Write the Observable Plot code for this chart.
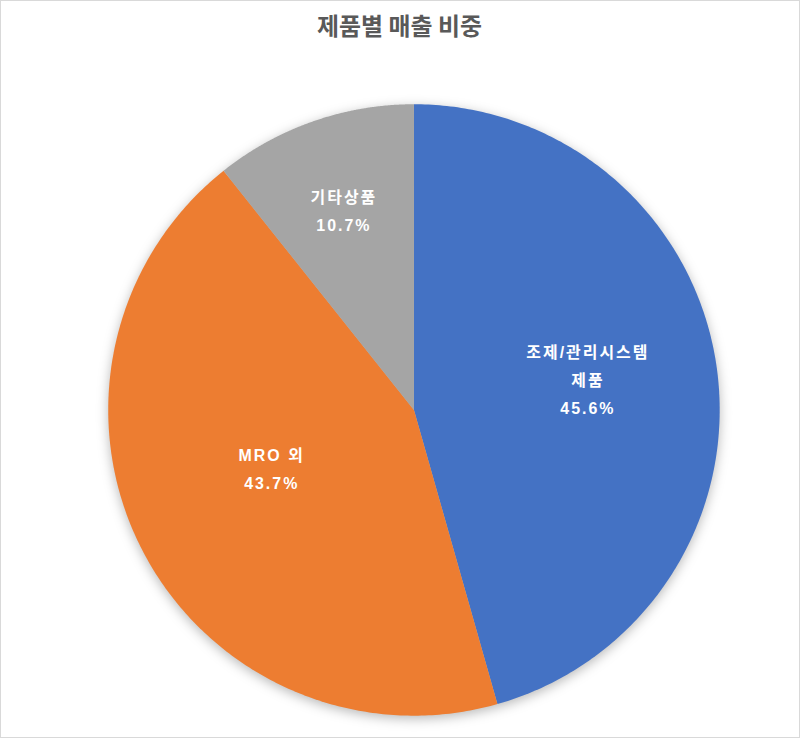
<!DOCTYPE html>
<html><head><meta charset="utf-8">
<script src="https://cdn.jsdelivr.net/npm/d3@7"></script>
<script src="https://cdn.jsdelivr.net/npm/@observablehq/plot@0.6"></script>
<style>
html,body{margin:0;padding:0;background:#fff;}
#wrap{position:relative;width:800px;height:738px;box-sizing:border-box;border:1px solid #d9d9d9;overflow:hidden;}
#wrap svg{position:absolute;left:-1px;top:-1px;}
svg g[aria-label="line"]{filter:drop-shadow(0px 3px 6px rgba(0,0,0,0.28));}
svg g.slice-labels text{letter-spacing:2px;}
</style></head>
<body><div id="wrap"></div>
<script>
const title = "제품별 매출 비중";
const categories = ["조제/관리시스템\n제품", "MRO 외", "기타상품"];
const shares = [45.6, 43.7, 10.7];
const colors = ["#4472C4", "#ED7D31", "#A5A5A5"];
// label placement: fraction of radius, and angular shift (degrees) from the slice bisector
const labelRadius = [0.579, 0.50, 0.698];
const labelShift = [-2.8, 5.7, 0.1];

const pie = d3.pie().sort(null).value(d => d)(shares);
const poly = [];
const labels = [];
pie.forEach((p, i) => {
  poly.push({k: i, x: 0, y: 0});
  const n = 240;
  for (let j = 0; j <= n; j++) {
    const a = p.startAngle + (p.endAngle - p.startAngle) * j / n;
    poly.push({k: i, x: Math.sin(a), y: Math.cos(a)});
  }
  poly.push({k: i, x: 0, y: 0});
  const m = (p.startAngle + p.endAngle) / 2 + labelShift[i] * Math.PI / 180;
  labels.push({k: i, x: labelRadius[i] * Math.sin(m), y: labelRadius[i] * Math.cos(m),
    text: categories[i] + "\n" + shares[i].toFixed(1) + "%"});
});

const chart = Plot.plot({
  width: 800, height: 738,
  margin: 0,
  x: {domain: [-1, 1], range: [108, 721], axis: null},
  y: {domain: [-1, 1], range: [717, 104], axis: null},
  style: {fontFamily: "'Noto Sans CJK KR', 'Noto Sans', sans-serif", background: "transparent"},
  marks: [
    Plot.line(poly, {x: "x", y: "y", z: "k", fill: d => colors[d.k], stroke: null, curve: "linear"}),
    Plot.text(labels, {x: "x", y: "y", text: "text", fill: "white", fontSize: 16, fontWeight: "bold", lineHeight: 1.75,
      fontFamily: "'Liberation Sans', 'Noto Sans CJK KR', sans-serif"}),
    Plot.text([title], {frameAnchor: "top", dy: 18, text: d => d, fontSize: 24, fontWeight: "bold", fill: "#595959"})
  ]
});
const textGroups = chart.querySelectorAll('g[aria-label="text"]');
if (textGroups.length) textGroups[0].classList.add("slice-labels");
document.getElementById("wrap").appendChild(chart);
</script></body></html>
